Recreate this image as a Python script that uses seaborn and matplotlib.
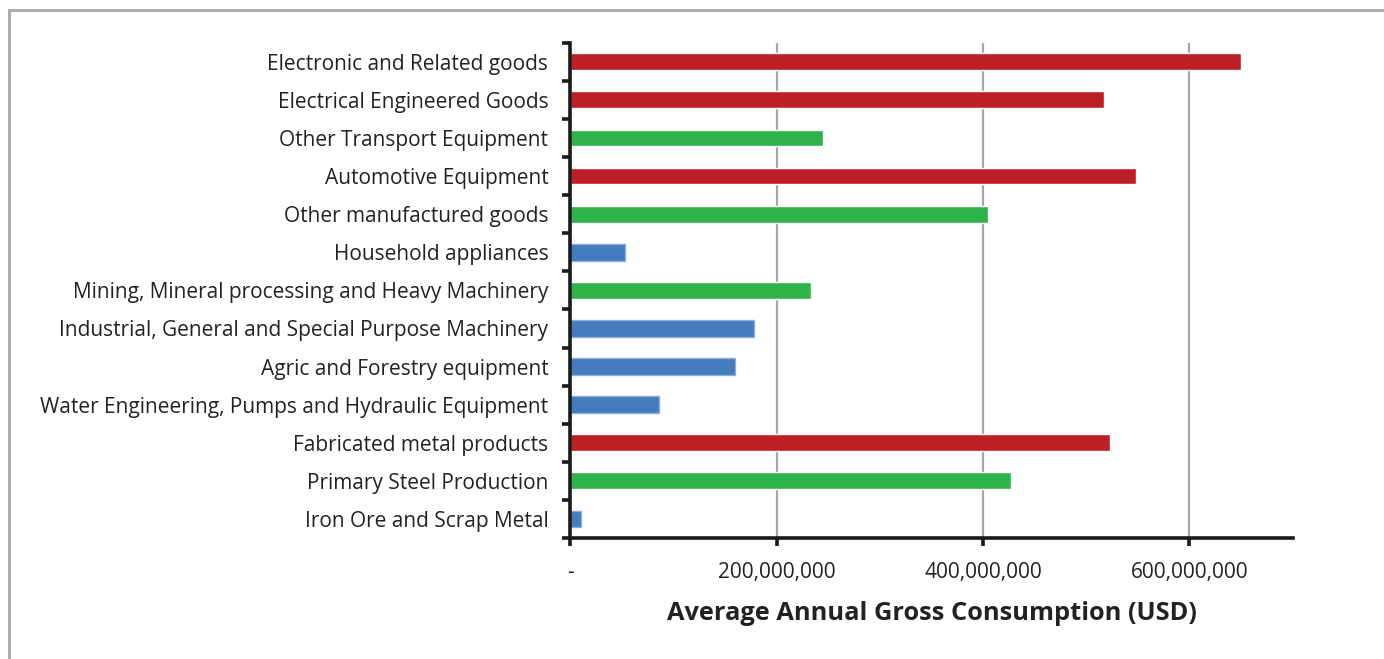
import matplotlib
matplotlib.use("Agg")
import matplotlib.pyplot as plt
import matplotlib.patches as mpatches
from matplotlib.ticker import FuncFormatter, FixedLocator
import seaborn as sns
import pandas as pd

# Sectors, top to bottom
sectors = [
    "Electronic and Related goods",
    "Electrical Engineered Goods",
    "Other Transport Equipment",
    "Automotive Equipment",
    "Other manufactured goods",
    "Household appliances",
    "Mining, Mineral processing and Heavy Machinery",
    "Industrial, General and Special Purpose Machinery",
    "Agric and Forestry equipment",
    "Water Engineering, Pumps and Hydraulic Equipment",
    "Fabricated metal products",
    "Primary Steel Production",
    "Iron Ore and Scrap Metal",
]

# Average annual gross consumption, USD
consumption = [
    650e6, 517e6, 244.5e6, 548e6, 405e6, 52.5e6, 233e6,
    177.6e6, 159.8e6, 86e6, 523e6, 427e6, 10.5e6,
]

# Consumption band of each sector
band = ["high", "high", "mid", "high", "mid", "low", "mid",
        "low", "low", "low", "high", "mid", "low"]

band_colors = {"high": "#BE1E25", "mid": "#2EB34A", "low": "#437DBD"}

xticks = [0, 200e6, 400e6, 600e6]
x_max = 700e6

df = pd.DataFrame({"sector": sectors, "usd": consumption, "band": band})

sns.set_style("white")
plt.rcParams["font.family"] = ["Open Sans", "DejaVu Sans"]

fig = plt.figure(figsize=(13.84, 6.59), dpi=100)
ax = fig.add_axes([0.4122, 0.1836, 0.5218, 0.7516])

sns.barplot(data=df, x="usd", y="sector", hue="band", palette=band_colors,
            order=sectors, orient="h", width=0.44, dodge=False,
            legend=False, saturation=1, ax=ax)

# lighter outline on the blue bars
for patch in ax.patches:
    fc = patch.get_facecolor()
    if abs(fc[0] - 0x43 / 255) < 0.02 and abs(fc[2] - 0xBD / 255) < 0.02:
        patch.set_edgecolor("#8DAEDB")
        patch.set_linewidth(1.0)

ax.set_xlim(0, x_max)
ax.set_ylim(len(sectors) - 0.5, -0.5)

ax.xaxis.set_major_locator(FixedLocator(xticks))
ax.xaxis.set_major_formatter(FuncFormatter(lambda v, _: "-" if v == 0 else f"{v:,.0f}"))
ax.grid(axis="x", color="#A6A6A6", linewidth=1.6)
ax.set_axisbelow(True)

ax.set_ylabel("")
ax.set_xlabel("Average Annual Gross Consumption (USD)", fontsize=18.3,
              fontweight="bold", color="#222222", labelpad=13)

for side in ["top", "right"]:
    ax.spines[side].set_visible(False)
for side in ["left", "bottom"]:
    ax.spines[side].set_color("#1A1A1A")
    ax.spines[side].set_linewidth(2.6)

ax.tick_params(axis="x", which="major", bottom=True, direction="out", length=6,
               width=2.6, color="#1A1A1A", labelsize=15, labelcolor="#222222",
               pad=11)
ax.tick_params(axis="y", which="major", left=False, length=0, labelsize=15,
               labelcolor="#222222", pad=16)
ax.yaxis.set_minor_locator(FixedLocator([i - 0.5 for i in range(len(sectors) + 1)]))
ax.tick_params(axis="y", which="minor", left=True, direction="out", length=6,
               width=2.6, color="#1A1A1A")

# Frame around the chart area
fig.patches.append(mpatches.Rectangle((9 / 1384, -0.1), 1.2, 1 - 10 / 659 + 0.1,
                                      transform=fig.transFigure, fill=False,
                                      edgecolor="#A8A8A8", linewidth=2.0))

fig.savefig("out.png", dpi=100)
